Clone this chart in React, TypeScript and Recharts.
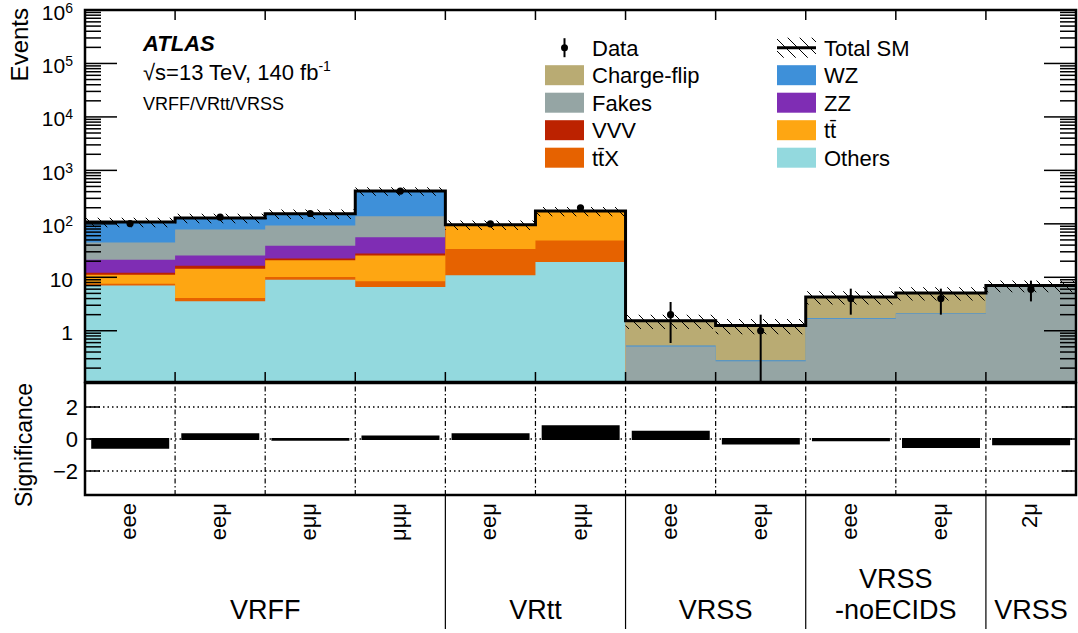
import React from 'react';
import {
  ComposedChart,
  Area,
  Line,
  Scatter,
  ErrorBar,
  Bar,
  XAxis,
  YAxis,
  ReferenceArea,
  ReferenceLine,
  Legend,
} from 'recharts';

// ---------------- data ----------------
const CATEGORIES = ['eee', 'eeμ', 'eμμ', 'μμμ', 'eeμ', 'eμμ', 'eee', 'eeμ', 'eee', 'eeμ', '2μ'];
const GROUP_LABELS = [['VRFF'], ['VRtt'], ['VRSS'], ['VRSS', '-noECIDS'], ['VRSS']];
const GROUP_CENTERS = [2, 5, 7, 9, 10.5];
const GROUP_BOUNDARIES = [4, 6, 8, 10];
const BIN_EDGES = [1, 2, 3, 4, 5, 6, 7, 8, 9, 10];

// stacked backgrounds (bottom to top)
const OTHERS = [7.0, 3.55, 9.0, 6.6, 10.9, 19.4, 0, 0, 0, 0, 0];
const TTX = [0.6, 0.55, 1.1, 1.8, 23.1, 29.3, 0, 0, 0, 0, 0];
const TT = [3.6, 10.4, 10.7, 17.1, 62, 124.3, 0, 0, 0, 0, 0];
const VVV = [0.9, 2.0, 1.6, 2.3, 0, 0, 0, 0, 0, 0, 0];
const ZZ = [9.3, 9.0, 16.6, 28.2, 0, 0, 0, 0, 0, 0, 0];
const FAKES = [23.6, 52.5, 54, 83, 0, 0, 0.51, 0.27, 1.68, 2.08, 7.0];
const WZ = [63, 50, 61, 271, 0, 0, 0.02, 0.012, 0.05, 0.05, 0];
const CHARGE_FLIP = [0, 0, 0, 0, 0, 0, 1.01, 0.978, 2.57, 2.97, 0];

const DATA = [101, 133, 156, 410, 100, 200, 2, 1, 4, 4, 6];
const DATA_ERR_DOWN = [10, 11.5, 12.5, 20, 10, 14, 1.41, 0.89, 2.0, 2.0, 2.46];
const DATA_ERR_UP = [10, 11.5, 12.5, 20, 10, 14, 1.45, 1.0, 2.13, 2.13, 2.66];
const SM_REL_UNC = [0.2, 0.2, 0.2, 0.18, 0.2, 0.2, 0.3, 0.32, 0.28, 0.28, 0.25];

const SIGNIFICANCE = [-0.55, 0.3, -0.05, 0.15, 0.3, 0.8, 0.45, -0.28, -0.08, -0.5, -0.33];

const Y_MIN = 0.11;
const Y_MAX = 1e6;
const Y_DECADES = [0.1, 1, 10, 100, 1000, 10000, 100000];
const Y_MINOR_MULT = [2, 3, 4, 5, 6, 7, 8, 9];
const Y_MAJOR_TICKS = [1, 10, 100, 1000, 10000, 100000, 1000000];
const SIG_TICKS = [-2, 0, 2];
const SIG_DOMAIN = [-3.5, 3.5];
const X_DOMAIN = [0, 11];

const LAYERS = [
  { key: 'others', name: 'Others', color: '#93d9de', values: OTHERS },
  { key: 'ttx', name: 'tt\u0304X', color: '#e66200', values: TTX },
  { key: 'tt', name: 'tt\u0304', color: '#fea612', values: TT },
  { key: 'vvv', name: 'VVV', color: '#bc2200', values: VVV },
  { key: 'zz', name: 'ZZ', color: '#7f2db4', values: ZZ },
  { key: 'fakes', name: 'Fakes', color: '#95a5a4', values: FAKES },
  { key: 'wz', name: 'WZ', color: '#3e90d9', values: WZ },
  { key: 'cf', name: 'Charge-flip', color: '#b9ab73', values: CHARGE_FLIP },
];

const LEGEND_COLUMNS = [
  ['data', 'cf', 'fakes', 'vvv', 'ttx'],
  ['total', 'wz', 'zz', 'tt', 'others'],
];

// ---------------- derived tables ----------------
const Y_TICKS = [
  ...Y_DECADES.flatMap((d) => Y_MINOR_MULT.map((m) => m * d)).filter((v) => v >= Y_MIN),
  ...Y_MAJOR_TICKS,
].sort((a, b) => a - b);

const HIST_ROWS = Array.from({ length: CATEGORIES.length + 1 }, (_, x) => {
  const i = Math.min(x, CATEGORIES.length - 1);
  const row: any = { x };
  let cum = 0;
  LAYERS.forEach((l) => {
    cum += l.values[i];
    row[l.key] = Math.max(cum, Y_MIN);
  });
  row.total = cum;
  row.band = [cum * (1 - SM_REL_UNC[i]), cum * (1 + SM_REL_UNC[i])];
  return row;
});

const DATA_POINTS = DATA.map((v, i) => ({
  x: i + 0.5,
  y: v,
  err: [DATA_ERR_DOWN[i], DATA_ERR_UP[i]],
}));

const SIG_ROWS = SIGNIFICANCE.map((s, i) => ({ key: `bin${i}`, mid: i + 0.5, label: CATEGORIES[i], sig: s }));

// ---------------- styling helpers ----------------
const FONT = '"Liberation Sans", Arial, Helvetica, sans-serif';
const isMajor = (v: number) => Math.abs(Math.log10(v) - Math.round(Math.log10(v))) < 1e-6;

const LeftLogTick = (props: any) => {
  const { x, y, payload } = props;
  const v = payload.value;
  const major = isMajor(v);
  const exp = Math.round(Math.log10(v));
  return (
    <g>
      <line x1={x} x2={x + (major ? 32 : 16)} y1={y} y2={y} stroke="#000" strokeWidth={1.5} />
      {major && (
        <text x={x - 12} y={y + 2} dy="0.36em" textAnchor="end" fontSize={21} fill="#000" fontFamily={FONT}>
          {exp === 0 ? '1' : '10'}
          {exp >= 2 && (
            <tspan dy={-7} fontSize={14}>
              {exp}
            </tspan>
          )}
        </text>
      )}
    </g>
  );
};

const RightLogTick = (props: any) => {
  const { x, y, payload } = props;
  const major = isMajor(payload.value);
  return <line x1={x} x2={x - (major ? 32 : 16)} y1={y} y2={y} stroke="#000" strokeWidth={1.5} />;
};

const TopEdgeTick = (props: any) => (
  <line x1={props.x} x2={props.x} y1={props.y} y2={props.y + 10} stroke="#000" strokeWidth={1.5} />
);
const BottomEdgeTick = (props: any) => (
  <line x1={props.x} x2={props.x} y1={props.y} y2={props.y - 10} stroke="#000" strokeWidth={1.5} />
);

const SigLeftTick = (props: any) => {
  const { x, y, payload } = props;
  const v = payload.value;
  return (
    <g>
      <line x1={x} x2={x + 15} y1={y} y2={y} stroke="#000" strokeWidth={1.5} />
      <text x={x - 7} y={y} dy="0.36em" textAnchor="end" fontSize={22} fill="#000" fontFamily={FONT}>
        {v < 0 ? `\u2212${Math.abs(v)}` : `${v}`}
      </text>
    </g>
  );
};
const SigRightTick = (props: any) => (
  <line x1={props.x} x2={props.x - 14} y1={props.y} y2={props.y} stroke="#000" strokeWidth={1.5} />
);

const CategoryTick = (props: any) => {
  const { x, y, payload } = props;
  const row = SIG_ROWS.find((r) => r.key === payload.value);
  return (
    <text
      transform={`translate(${x + 6}, ${y + 8}) rotate(-90)`}
      textAnchor="end"
      fontSize={22}
      fill="#000"
      fontFamily={FONT}
    >
      {row ? row.label : ''}
    </text>
  );
};

const GroupTick = (props: any) => {
  const { x, y, payload } = props;
  const v = payload.value;
  if (GROUP_BOUNDARIES.includes(v)) {
    return <line x1={x} x2={x} y1={y} y2={y + 133} stroke="#000" strokeWidth={1.2} />;
  }
  const gi = GROUP_CENTERS.indexOf(v);
  if (gi < 0) return <g />;
  const lines = GROUP_LABELS[gi];
  return (
    <g>
      {lines.map((t, k) => (
        <text
          key={k}
          x={x}
          y={y + 123 - (lines.length - 1 - k) * 31}
          textAnchor="middle"
          fontSize={27}
          fill="#000"
          fontFamily={FONT}
        >
          {t}
        </text>
      ))}
    </g>
  );
};

const layerByKey = (k: string) => LAYERS.find((l) => l.key === k);

const renderLegend = () => {
  const rowH = 27.5;
  const colX = [5, 237];
  return (
    <svg width={520} height={150} style={{ overflow: 'visible' }} fontFamily={FONT}>
      {LEGEND_COLUMNS.map((col, ci) =>
        col.map((k, ri) => {
          const cy = 17.7 + ri * rowH;
          const sx = colX[ci];
          let marker: any;
          let name = '';
          if (k === 'data') {
            name = 'Data';
            marker = (
              <g>
                <line x1={sx + 19.5} x2={sx + 19.5} y1={cy - 9.5} y2={cy + 9.5} stroke="#000" strokeWidth={2} />
                <circle cx={sx + 19.5} cy={cy} r={3.5} fill="#000" />
              </g>
            );
          } else if (k === 'total') {
            name = 'Total SM';
            marker = (
              <g>
                <rect x={sx} y={cy - 10} width={39} height={20} fill="url(#smHatch)" />
                <line x1={sx} x2={sx + 39} y1={cy} y2={cy} stroke="#000" strokeWidth={3} />
              </g>
            );
          } else {
            const l = layerByKey(k)!;
            name = l.name;
            marker = <rect x={sx} y={cy - 10} width={39} height={20} fill={l.color} />;
          }
          return (
            <g key={k}>
              {marker}
              <text x={sx + 47} y={cy} dy="0.36em" fontSize={22} fill="#000">
                {name}
              </text>
            </g>
          );
        })
      )}
    </svg>
  );
};

export default function App() {
  return (
    <div style={{ position: 'absolute', left: 0, top: 0, width: 1078, height: 633, fontFamily: FONT, background: '#fff' }}>
      <svg width={0} height={0} style={{ position: 'absolute' }}>
        <defs>
          <pattern id="smHatch" patternUnits="userSpaceOnUse" width={12} height={12}>
            <path d="M0,0 L12,12 M-3,9 L3,15 M9,-3 L15,3" stroke="#000" strokeWidth={1} />
          </pattern>
        </defs>
      </svg>

      {/* upper panel */}
      <div style={{ position: 'absolute', left: 0, top: 0 }}>
        <ComposedChart
          width={1078}
          height={384}
          data={HIST_ROWS}
          margin={{ top: 9, right: 1, bottom: 1, left: 84 }}
        >
          <XAxis
            dataKey="x"
            type="number"
            domain={X_DOMAIN}
            allowDataOverflow
            ticks={BIN_EDGES}
            interval={0}
            height={1}
            tickSize={0}
            tickMargin={0}
            axisLine={false}
            tick={BottomEdgeTick}
          />
          <XAxis
            xAxisId="top"
            dataKey="x"
            orientation="top"
            type="number"
            domain={X_DOMAIN}
            allowDataOverflow
            ticks={BIN_EDGES}
            interval={0}
            height={1}
            tickSize={0}
            tickMargin={0}
            axisLine={false}
            tick={TopEdgeTick}
          />
          <YAxis
            type="number"
            scale="log"
            domain={[Y_MIN, Y_MAX]}
            allowDataOverflow
            ticks={Y_TICKS}
            interval={0}
            width={1}
            tickSize={0}
            tickMargin={0}
            axisLine={false}
            tick={LeftLogTick}
          />
          <YAxis
            yAxisId="right"
            orientation="right"
            type="number"
            scale="log"
            domain={[Y_MIN, Y_MAX]}
            allowDataOverflow
            ticks={Y_TICKS}
            interval={0}
            width={1}
            tickSize={0}
            tickMargin={0}
            axisLine={false}
            tick={RightLogTick}
          />
          {[...LAYERS].reverse().map((l) => (
            <Area
              key={l.key}
              type="stepAfter"
              dataKey={l.key}
              name={l.name}
              fill={l.color}
              fillOpacity={1}
              stroke="none"
              baseValue={Y_MIN}
              isAnimationActive={false}
            />
          ))}
          <Area
            type="stepAfter"
            dataKey="band"
            name="Total SM uncertainty"
            fill="url(#smHatch)"
            fillOpacity={1}
            stroke="none"
            isAnimationActive={false}
          />
          <Line
            type="stepAfter"
            dataKey="total"
            name="Total SM"
            stroke="#000"
            strokeWidth={3}
            dot={false}
            isAnimationActive={false}
          />
          <Scatter
            data={DATA_POINTS}
            dataKey="y"
            name="Data"
            fill="#000"
            isAnimationActive={false}
            shape={(p: any) => <circle cx={p.cx} cy={p.cy} r={3.6} fill="#000" />}
          >
            <ErrorBar dataKey="err" direction="y" width={0} stroke="#000" strokeWidth={2} isAnimationActive={false} />
          </Scatter>
          <ReferenceArea
            x1={X_DOMAIN[0]}
            x2={X_DOMAIN[1]}
            y1={Y_MIN}
            y2={Y_MAX}
            fill="none"
            stroke="#000"
            strokeWidth={2.5}
            ifOverflow="visible"
          />
          <Legend
            content={renderLegend}
            layout="vertical"
            align="center"
            verticalAlign="middle"
            wrapperStyle={{ position: 'absolute', left: 540, top: 30, width: 520, height: 150 }}
          />
        </ComposedChart>
      </div>

      {/* lower panel */}
      <div style={{ position: 'absolute', left: 0, top: 373 }}>
        <ComposedChart
          width={1078}
          height={260}
          data={SIG_ROWS}
          margin={{ top: 10, right: 1, bottom: 136, left: 84 }}
          barCategoryGap="8%"
        >
          <XAxis
            xAxisId="cat"
            dataKey="key"
            type="category"
            interval={0}
            height={1}
            tickSize={0}
            tickMargin={0}
            axisLine={false}
            tick={CategoryTick}
          />
          <XAxis
            xAxisId="grp"
            dataKey="mid"
            type="number"
            domain={X_DOMAIN}
            allowDataOverflow
            ticks={[...GROUP_CENTERS, ...GROUP_BOUNDARIES].sort((a, b) => a - b)}
            interval={0}
            height={1}
            tickSize={0}
            tickMargin={0}
            axisLine={false}
            tick={GroupTick}
          />
          <YAxis
            type="number"
            domain={SIG_DOMAIN}
            allowDataOverflow
            ticks={SIG_TICKS}
            interval={0}
            width={1}
            tickSize={0}
            tickMargin={0}
            axisLine={false}
            tick={SigLeftTick}
          />
          <YAxis
            yAxisId="right"
            orientation="right"
            type="number"
            domain={SIG_DOMAIN}
            allowDataOverflow
            ticks={SIG_TICKS}
            interval={0}
            width={1}
            tickSize={0}
            tickMargin={0}
            axisLine={false}
            tick={SigRightTick}
          />
          {SIG_TICKS.map((t) => (
            <ReferenceLine
              key={`h${t}`}
              xAxisId="grp"
              y={t}
              stroke="#000"
              strokeWidth={1.5}
              strokeDasharray="1.5 3"
            />
          ))}
          {BIN_EDGES.map((e) => (
            <ReferenceLine
              key={`v${e}`}
              xAxisId="grp"
              x={e}
              stroke="#000"
              strokeWidth={1.2}
              strokeDasharray="5 2.5 1.5 2.5"
            />
          ))}
          <Bar
            xAxisId="cat"
            dataKey="sig"
            name="Significance"
            fill="#000"
            stroke="#000"
            strokeWidth={2}
            isAnimationActive={false}
          />
          <ReferenceArea
            xAxisId="grp"
            x1={X_DOMAIN[0]}
            x2={X_DOMAIN[1]}
            y1={SIG_DOMAIN[0]}
            y2={SIG_DOMAIN[1]}
            fill="none"
            stroke="#000"
            strokeWidth={2.5}
            ifOverflow="visible"
          />
        </ComposedChart>
      </div>

      {/* annotations */}
      <svg
        width={1078}
        height={633}
        style={{ position: 'absolute', left: 0, top: 0, pointerEvents: 'none' }}
        fontFamily={FONT}
      >
        <text x={143} y={51} fontSize={22} fontWeight="bold" fontStyle="italic" fill="#000">
          ATLAS
        </text>
        <text x={143} y={80} fontSize={22} fill="#000">
          √s=13 TeV, 140 fb
          <tspan dy={-9} fontSize={14}>
            -1
          </tspan>
        </text>
        <text x={143} y={110} fontSize={18} fill="#000">
          VRFF/VRtt/VRSS
        </text>
        <text transform="translate(28, 8) rotate(-90)" textAnchor="end" fontSize={24} fill="#000">
          Events
        </text>
        <text transform="translate(32, 445) rotate(-90)" textAnchor="middle" fontSize={23} fill="#000">
          Significance
        </text>
      </svg>
    </div>
  );
}
